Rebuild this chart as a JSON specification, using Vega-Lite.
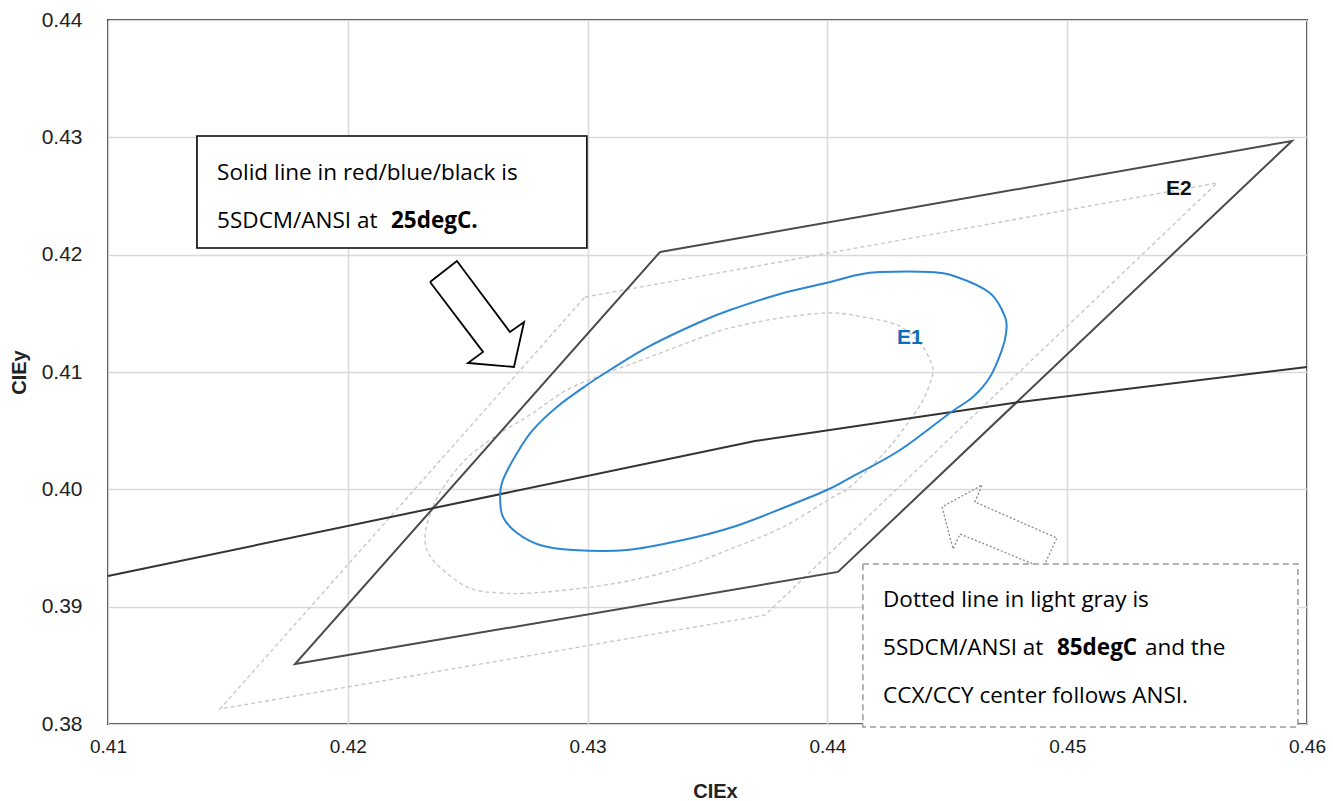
{
  "$schema": "https://vega.github.io/schema/vega-lite/v6.json",
  "width": 1199,
  "height": 704,
  "autosize": {"type": "none"},
  "padding": {"left": 108, "top": 20, "right": 26, "bottom": 77},
  "background": "white",
  "config": {"view": {"stroke": "#3a3a3a", "strokeWidth": 2}},
  "datasets": {
    "e25": [
      {"i": 1, "x": 0.42635, "y": 0.39935}, {"i": 2, "x": 0.42647, "y": 0.40080}, {"i": 3, "x": 0.42706, "y": 0.40310},
      {"i": 4, "x": 0.42772, "y": 0.40506}, {"i": 5, "x": 0.42872, "y": 0.40702}, {"i": 6, "x": 0.42997, "y": 0.40889},
      {"i": 7, "x": 0.43093, "y": 0.41017}, {"i": 8, "x": 0.43260, "y": 0.41222}, {"i": 9, "x": 0.43469, "y": 0.41426},
      {"i": 10, "x": 0.43594, "y": 0.41528}, {"i": 11, "x": 0.43802, "y": 0.41665}, {"i": 12, "x": 0.44011, "y": 0.41767},
      {"i": 13, "x": 0.44123, "y": 0.41827}, {"i": 14, "x": 0.44219, "y": 0.41852}, {"i": 15, "x": 0.44428, "y": 0.41852},
      {"i": 16, "x": 0.44540, "y": 0.41810}, {"i": 17, "x": 0.44678, "y": 0.41673}, {"i": 18, "x": 0.44741, "y": 0.41469},
      {"i": 19, "x": 0.44745, "y": 0.41333}, {"i": 20, "x": 0.44728, "y": 0.41188}, {"i": 21, "x": 0.44678, "y": 0.40957},
      {"i": 22, "x": 0.44607, "y": 0.40787}, {"i": 23, "x": 0.44511, "y": 0.40651}, {"i": 24, "x": 0.44303, "y": 0.40335},
      {"i": 25, "x": 0.44094, "y": 0.40097}, {"i": 26, "x": 0.43998, "y": 0.39994}, {"i": 27, "x": 0.43815, "y": 0.39841},
      {"i": 28, "x": 0.43606, "y": 0.39679}, {"i": 29, "x": 0.43398, "y": 0.39568}, {"i": 30, "x": 0.43164, "y": 0.39483},
      {"i": 31, "x": 0.42939, "y": 0.39483}, {"i": 32, "x": 0.42801, "y": 0.39526}, {"i": 33, "x": 0.42706, "y": 0.39628},
      {"i": 34, "x": 0.42647, "y": 0.39764}
    ],
    "e85": [
      {"i": 1, "x": 0.42322, "y": 0.39594}, {"i": 2, "x": 0.42355, "y": 0.39850}, {"i": 3, "x": 0.42405, "y": 0.40037},
      {"i": 4, "x": 0.42489, "y": 0.40250}, {"i": 5, "x": 0.42593, "y": 0.40421}, {"i": 6, "x": 0.42676, "y": 0.40531},
      {"i": 7, "x": 0.42772, "y": 0.40651}, {"i": 8, "x": 0.42914, "y": 0.40847}, {"i": 9, "x": 0.43081, "y": 0.40992},
      {"i": 10, "x": 0.43260, "y": 0.41128}, {"i": 11, "x": 0.43469, "y": 0.41290}, {"i": 12, "x": 0.43594, "y": 0.41375},
      {"i": 13, "x": 0.43802, "y": 0.41460}, {"i": 14, "x": 0.44011, "y": 0.41503}, {"i": 15, "x": 0.44148, "y": 0.41469},
      {"i": 16, "x": 0.44290, "y": 0.41401}, {"i": 17, "x": 0.44386, "y": 0.41247}, {"i": 18, "x": 0.44436, "y": 0.41060},
      {"i": 19, "x": 0.44436, "y": 0.40957}, {"i": 20, "x": 0.44399, "y": 0.40761}, {"i": 21, "x": 0.44344, "y": 0.40591},
      {"i": 22, "x": 0.44248, "y": 0.40335}, {"i": 23, "x": 0.44094, "y": 0.40020}, {"i": 24, "x": 0.44023, "y": 0.39935},
      {"i": 25, "x": 0.43815, "y": 0.39679}, {"i": 26, "x": 0.43606, "y": 0.39500}, {"i": 27, "x": 0.43398, "y": 0.39338},
      {"i": 28, "x": 0.43189, "y": 0.39227}, {"i": 29, "x": 0.42981, "y": 0.39159}, {"i": 30, "x": 0.42772, "y": 0.39117},
      {"i": 31, "x": 0.42635, "y": 0.39117}, {"i": 32, "x": 0.42497, "y": 0.39168}, {"i": 33, "x": 0.42355, "y": 0.39398}
    ],
    "quad25": [
      {"i": 1, "x": 0.43302, "y": 0.42023}, {"i": 2, "x": 0.45937, "y": 0.42969}, {"i": 3, "x": 0.44044, "y": 0.39296},
      {"i": 4, "x": 0.41780, "y": 0.38511}, {"i": 5, "x": 0.43302, "y": 0.42023}
    ],
    "quad85": [
      {"i": 1, "x": 0.42989, "y": 0.41639}, {"i": 2, "x": 0.45625, "y": 0.42611}, {"i": 3, "x": 0.43740, "y": 0.38929},
      {"i": 4, "x": 0.41467, "y": 0.38128}, {"i": 5, "x": 0.42989, "y": 0.41639}
    ],
    "locus": [
      {"i": 1, "x": 0.41, "y": 0.39261}, {"i": 2, "x": 0.43698, "y": 0.40412}, {"i": 3, "x": 0.44774, "y": 0.40736},
      {"i": 4, "x": 0.46, "y": 0.41043}
    ],
    "arrow1": [
      {"i": 1, "x": 0.42343, "y": 0.41767}, {"i": 2, "x": 0.42455, "y": 0.41946}, {"i": 3, "x": 0.42676, "y": 0.41341},
      {"i": 4, "x": 0.42735, "y": 0.41426}, {"i": 5, "x": 0.42693, "y": 0.41043}, {"i": 6, "x": 0.42501, "y": 0.41077},
      {"i": 7, "x": 0.42564, "y": 0.41171}, {"i": 8, "x": 0.42343, "y": 0.41767}
    ],
    "arrow2": [
      {"i": 1, "x": 0.44478, "y": 0.39850}, {"i": 2, "x": 0.44524, "y": 0.39492}, {"i": 3, "x": 0.44553, "y": 0.39619},
      {"i": 4, "x": 0.44899, "y": 0.39330}, {"i": 5, "x": 0.44957, "y": 0.39585}, {"i": 6, "x": 0.44615, "y": 0.39892},
      {"i": 7, "x": 0.44645, "y": 0.40037}, {"i": 8, "x": 0.44478, "y": 0.39850}
    ],
    "box1": [{"x": 0.41371, "x2": 0.42997, "y": 0.42057, "y2": 0.43012}],
    "box2": [{"x": 0.44148, "x2": 0.45962, "y": 0.37974, "y2": 0.39364}],
    "notes": [
      {"t": "Solid line in red/blue/black is", "x": 0.41455, "y": 0.42637},
      {"t": "5SDCM/ANSI at", "x": 0.41455, "y": 0.42227},
      {"t": "Dotted line in light gray is", "x": 0.44232, "y": 0.38997},
      {"t": "5SDCM/ANSI at", "x": 0.44232, "y": 0.38588},
      {"t": "and the", "x": 0.45324, "y": 0.38588},
      {"t": "CCX/CCY center follows ANSI.", "x": 0.44232, "y": 0.38179}
    ],
    "notesBold": [
      {"t": "25degC.", "x": 0.42180, "y": 0.42227},
      {"t": "85degC", "x": 0.44957, "y": 0.38588}
    ],
    "lblE1": [{"t": "E1", "x": 0.44344, "y": 0.41290}],
    "lblE2": [{"t": "E2", "x": 0.45466, "y": 0.42560}]
  },
  "encoding": {
    "x": {
      "field": "x", "type": "quantitative",
      "scale": {"domain": [0.41, 0.46], "nice": false, "zero": false},
      "axis": {
        "title": "CIEx", "values": [0.41, 0.42, 0.43, 0.44, 0.45, 0.46], "format": ".2f",
        "grid": true, "gridColor": "#d9d9d9", "gridWidth": 1.5, "domain": false,
        "ticks": false, "tickSize": 0, "labelPadding": 13, "labelDx": -4,
        "labelFlush": false, "labelOverlap": false,
        "labelFont": "Liberation Sans", "labelFontSize": 19, "labelColor": "#1a1a1a",
        "titleFont": "Liberation Sans", "titleFontSize": 20, "titleFontWeight": "bold", "titleColor": "#222222",
        "titleX": 607, "titleY": 73, "titleBaseline": "alphabetic", "titleAlign": "center"
      }
    },
    "y": {
      "field": "y", "type": "quantitative",
      "scale": {"domain": [0.38, 0.44], "nice": false, "zero": false},
      "axis": {
        "title": "CIEy", "values": [0.38, 0.39, 0.40, 0.41, 0.42, 0.43, 0.44], "format": ".2f",
        "grid": true, "gridColor": "#d9d9d9", "gridWidth": 1.5, "domain": false,
        "ticks": false, "tickSize": 0, "labelPadding": 26,
        "labelFlush": false, "labelOverlap": false,
        "labelFont": "Liberation Sans", "labelFontSize": 21, "labelColor": "#222222",
        "titleFont": "Liberation Sans", "titleFontSize": 20, "titleFontWeight": "bold", "titleColor": "#222222",
        "titleX": -83, "titleY": 352, "titleAngle": 270, "titleBaseline": "alphabetic", "titleAlign": "center"
      }
    }
  },
  "layer": [
    {"data": {"name": "quad85"}, "mark": {"type": "line", "color": "#c8c8c8", "strokeWidth": 1.4, "strokeDash": [4, 3]},
     "encoding": {"order": {"field": "i", "type": "quantitative"}}},
    {"data": {"name": "e85"}, "mark": {"type": "line", "color": "#c8c8c8", "strokeWidth": 1.4, "strokeDash": [4, 3], "interpolate": "cardinal-closed"},
     "encoding": {"order": {"field": "i", "type": "quantitative"}}},
    {"data": {"name": "quad25"}, "mark": {"type": "line", "color": "#4a4a4a", "strokeWidth": 2},
     "encoding": {"order": {"field": "i", "type": "quantitative"}}},
    {"data": {"name": "locus"}, "mark": {"type": "line", "color": "#333333", "strokeWidth": 2},
     "encoding": {"order": {"field": "i", "type": "quantitative"}}},
    {"data": {"name": "e25"}, "mark": {"type": "line", "color": "#2b87d3", "strokeWidth": 2, "interpolate": "cardinal-closed"},
     "encoding": {"order": {"field": "i", "type": "quantitative"}}},
    {"data": {"name": "arrow1"}, "mark": {"type": "line", "color": "#000000", "strokeWidth": 1.8, "strokeJoin": "miter"},
     "encoding": {"order": {"field": "i", "type": "quantitative"}}},
    {"data": {"name": "arrow2"}, "mark": {"type": "line", "color": "#8a8a8a", "strokeWidth": 1.3, "strokeDash": [2, 2]},
     "encoding": {"order": {"field": "i", "type": "quantitative"}}},
    {"data": {"name": "box1"}, "mark": {"type": "rect", "fill": "white", "stroke": "#000000", "strokeWidth": 1.6},
     "encoding": {"x2": {"field": "x2"}, "y2": {"field": "y2"}}},
    {"data": {"name": "box2"}, "mark": {"type": "rect", "fill": "white", "stroke": "#9a9a9a", "strokeWidth": 1.5, "strokeDash": [6, 4]},
     "encoding": {"x2": {"field": "x2"}, "y2": {"field": "y2"}}},
    {"data": {"name": "notes"}, "mark": {"type": "text", "align": "left", "baseline": "alphabetic", "font": "Open Sans", "fontSize": 22.5, "color": "#000000"},
     "encoding": {"text": {"field": "t"}}},
    {"data": {"name": "notesBold"}, "mark": {"type": "text", "align": "left", "baseline": "alphabetic", "font": "Open Sans", "fontSize": 22.5, "fontWeight": "bold", "color": "#000000"},
     "encoding": {"text": {"field": "t"}}},
    {"data": {"name": "lblE1"}, "mark": {"type": "text", "align": "center", "baseline": "middle", "font": "Liberation Sans", "fontSize": 21, "fontWeight": "bold", "color": "#0a6ebd"},
     "encoding": {"text": {"field": "t"}}},
    {"data": {"name": "lblE2"}, "mark": {"type": "text", "align": "center", "baseline": "middle", "font": "Liberation Sans", "fontSize": 21, "fontWeight": "bold", "color": "#111111"},
     "encoding": {"text": {"field": "t"}}}
  ]
}
